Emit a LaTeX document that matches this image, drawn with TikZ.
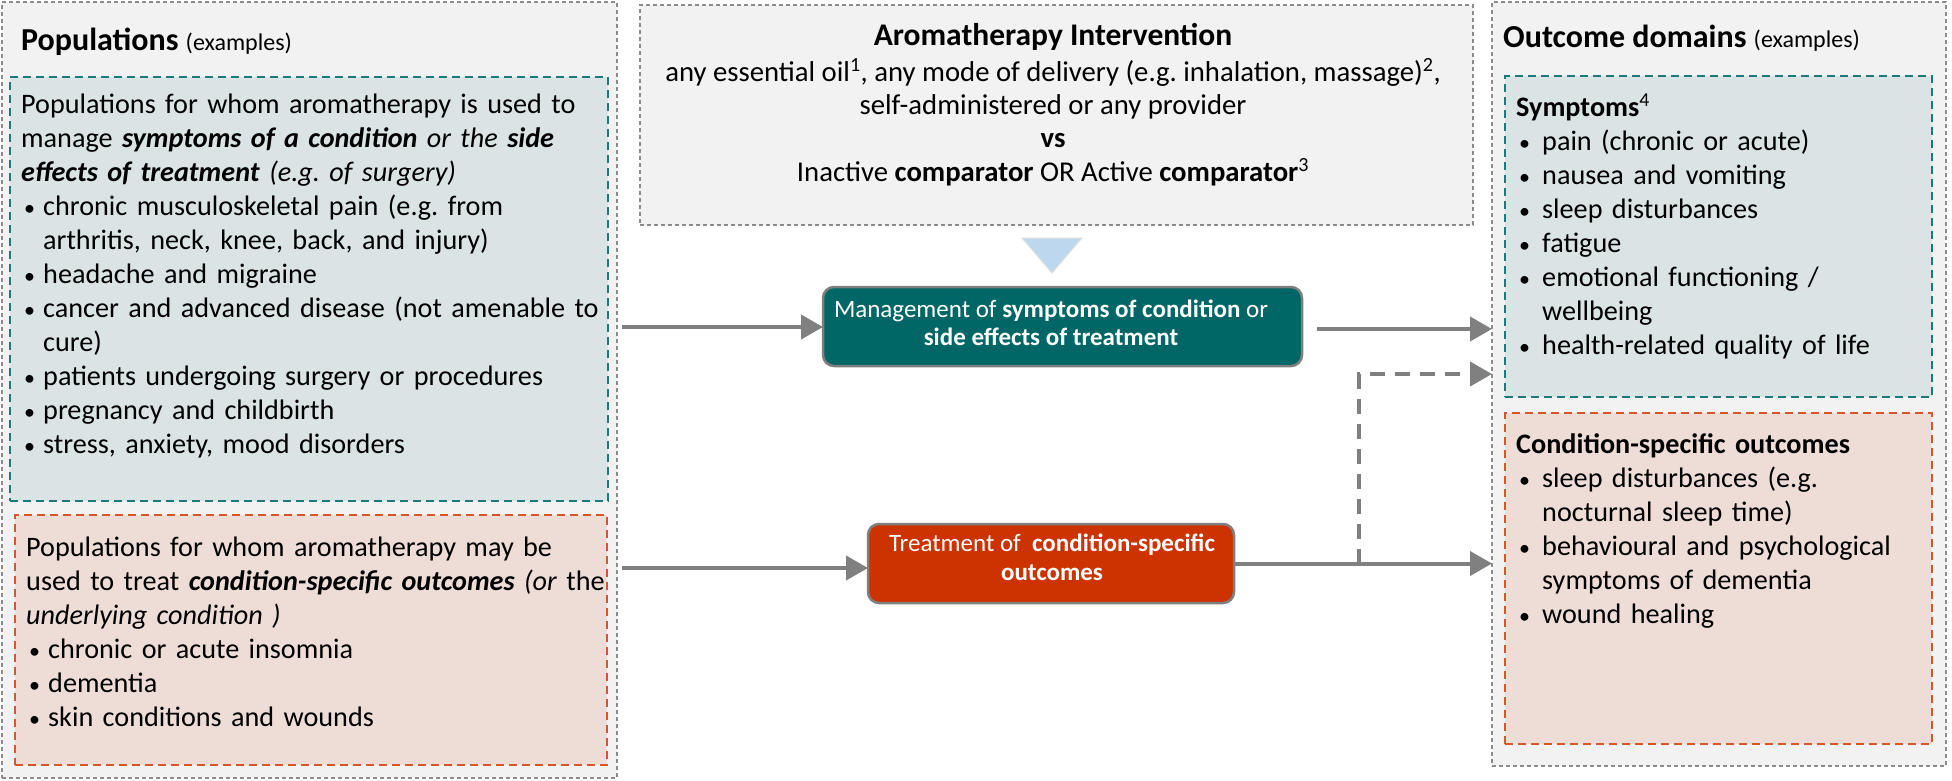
\documentclass[tikz,border=0pt]{standalone}
\usepackage{fontspec}
\setmainfont{Carlito}
\usetikzlibrary{arrows.meta}
\definecolor{outerfill}{RGB}{242,242,242}
\definecolor{outerline}{RGB}{140,140,140}
\definecolor{tealfill}{RGB}{218,228,228}
\definecolor{tealline}{RGB}{30,122,120}
\definecolor{orfill}{RGB}{238,221,215}
\definecolor{orline}{RGB}{214,86,44}
\definecolor{mgmtfill}{RGB}{0,102,102}
\definecolor{treatfill}{RGB}{204,51,0}
\definecolor{boxline}{RGB}{127,127,127}
\definecolor{trifill}{RGB}{189,215,238}
\definecolor{arrowgray}{RGB}{128,128,128}
\frenchspacing
\newcommand{\bodyfont}{\fontsize{28.2}{34}\selectfont\frenchspacing}
\newcommand{\midfont}{\fontsize{28.7}{34}\selectfont\frenchspacing}
\newcommand{\boxfont}{\fontsize{25}{28}\selectfont}
\newcommand{\hdrfont}{\fontsize{32}{36}\selectfont\bfseries}
\newcommand{\exfont}{\fontsize{24}{28}\selectfont\mdseries}
\newcommand{\bitem}[2][22pt]{\par\hangindent=#1\hangafter=1\noindent\makebox[#1][l]{\hspace{3pt}{\fontsize{22}{0}\selectfont\textbullet}}#2}
\tikzset{
  outerbox/.style={draw=outerline, fill=outerfill, line width=1.3pt, dash pattern=on 4pt off 3pt, inner sep=0pt, outer sep=0pt, anchor=north west},
  tealbox/.style={draw=tealline, fill=tealfill, line width=2.2pt, dash pattern=on 8pt off 5pt, inner sep=0pt, outer sep=0pt, anchor=north west},
  orbox/.style={draw=orline, fill=orfill, line width=2.2pt, dash pattern=on 8pt off 5pt, inner sep=0pt, outer sep=0pt, anchor=north west},
  flowbox/.style={draw=boxline, line width=2.5pt, rounded corners=11pt, inner sep=0pt, outer sep=0pt, anchor=north west},
  txt/.style={inner sep=0pt, anchor=base west, align=left},
  ctxt/.style={inner sep=0pt, anchor=base},
  arr/.style={draw=arrowgray, line width=4pt, -{Triangle[length=22pt,width=24pt]}},
  dasharr/.style={arr, dash pattern=on 15pt off 10pt}
}
\begin{document}
\begin{tikzpicture}[x=1pt,y=-1pt]
\useasboundingbox (0,0) rectangle (1952,780);
% containers
\node[outerbox, minimum width=615pt, minimum height=776pt] (popbox) at (2,2) {};
\node[outerbox, minimum width=833pt, minimum height=220pt] (interv) at (640,5) {};
\node[outerbox, minimum width=454pt, minimum height=764pt] (outbox) at (1492,2) {};
\node[tealbox, minimum width=598pt, minimum height=424pt] (popsym) at (10,77) {};
\node[orbox, minimum width=592pt, minimum height=250pt] (popcond) at (15,515) {};
\node[tealbox, minimum width=427pt, minimum height=321pt] (outsym) at (1505,76) {};
\node[orbox, minimum width=427pt, minimum height=331pt] (outcond) at (1505,413) {};
% populations
\node[txt] (pophdr) at (21,50) {\hdrfont Populations {\exfont(examples)}};
\node[txt, text width=800pt, font=\bodyfont] (popsymtxt) at (21,113) {Populations for whom aromatherapy is used to\newline manage \textbf{\textit{symptoms of a condition}} \textit{or the} \textbf{\textit{side\newline effects of treatment}} \textit{(e.g. of surgery)}
\bitem{chronic musculoskeletal pain (e.g. from\newline arthritis, neck, knee, back, and injury)}
\bitem{headache and migraine}
\bitem{cancer and advanced disease (not amenable to\newline cure)}
\bitem{patients undergoing surgery or procedures}
\bitem{pregnancy and childbirth}
\bitem{stress, anxiety, mood disorders}};
\node[txt, text width=800pt, font=\bodyfont] (popcondtxt) at (26,556) {Populations for whom aromatherapy may be\newline used to treat \textbf{\textit{condition-specific outcomes}} \textit{(or} the\newline \textit{underlying condition )}
\bitem{chronic or acute insomnia}
\bitem{dementia}
\bitem{skin conditions and wounds}};
% intervention
\node[ctxt, font=\fontsize{31.5}{35}\selectfont\bfseries] (intitle) at (1053,45) {Aromatherapy Intervention};
\node[ctxt, font=\midfont] (inl1) at (1053,81) {any essential oil\textsuperscript{1}, any mode of delivery (e.g. inhalation, massage)\textsuperscript{2},};
\node[ctxt, font=\midfont] (inl2) at (1053,114) {self-administered or any provider};
\node[ctxt, font=\midfont] (inl3) at (1053,147) {\textbf{vs}};
\node[ctxt, font=\midfont] (inl4) at (1053,181) {Inactive \textbf{comparator} OR Active \textbf{comparator}\textsuperscript{3}};
\path[fill=trifill, draw=black!12, line width=1pt] (1022,238) -- (1082,238) -- (1052,273) -- cycle;
% flow boxes
\node[flowbox, fill=mgmtfill, minimum width=479pt, minimum height=79pt] (mgmt) at (823,287) {};
\node[ctxt, font=\boxfont, text=white] (mgmtl1) at (1051,317) {Management of \textbf{symptoms of condition} or};
\node[ctxt, font=\boxfont, text=white] (mgmtl2) at (1051,345) {\textbf{side effects of treatment}};
\node[flowbox, fill=treatfill, minimum width=366pt, minimum height=79pt] (treat) at (868,524) {};
\node[ctxt, font=\boxfont, text=white] (treatl1) at (1052,551) {Treatment of\ \ \textbf{condition-specific}};
\node[ctxt, font=\boxfont, text=white] (treatl2) at (1052,580) {\textbf{outcomes}};
% outcomes
\node[txt] (outhdr) at (1503,47) {\hdrfont Outcome domains {\exfont(examples)}};
\node[txt, text width=420pt, font=\bodyfont] (outsymtxt) at (1516,116) {\textbf{Symptoms}\textsuperscript{4}
\bitem[26pt]{pain (chronic or acute)}
\bitem[26pt]{nausea and vomiting}
\bitem[26pt]{sleep disturbances}
\bitem[26pt]{fatigue}
\bitem[26pt]{emotional functioning /\newline wellbeing}
\bitem[26pt]{health-related quality of life}};
\node[txt, text width=420pt, font=\bodyfont] (outcondtxt) at (1516,453) {\textbf{Condition-specific outcomes}
\bitem[26pt]{sleep disturbances (e.g.\newline nocturnal sleep time)}
\bitem[26pt]{behavioural and psychological\newline symptoms of dementia}
\bitem[26pt]{wound healing}};
% connectors
\coordinate (a1s) at (622,327);
\coordinate (a2s) at (622,568);
\coordinate (a3s) at (1317,329);
\coordinate (dtop) at (1359,374);
\draw[arr] (a1s) -- (a1s -| mgmt.west);
\draw[arr] (a2s) -- (a2s -| treat.west);
\draw[arr] (a3s) -- (a3s -| outbox.west);
\draw[arr] (treat.east) -- (treat.east -| outbox.west);
\draw[dasharr] (treat.east -| dtop) -- (dtop) -- (dtop -| outbox.west);
\end{tikzpicture}
\end{document}
